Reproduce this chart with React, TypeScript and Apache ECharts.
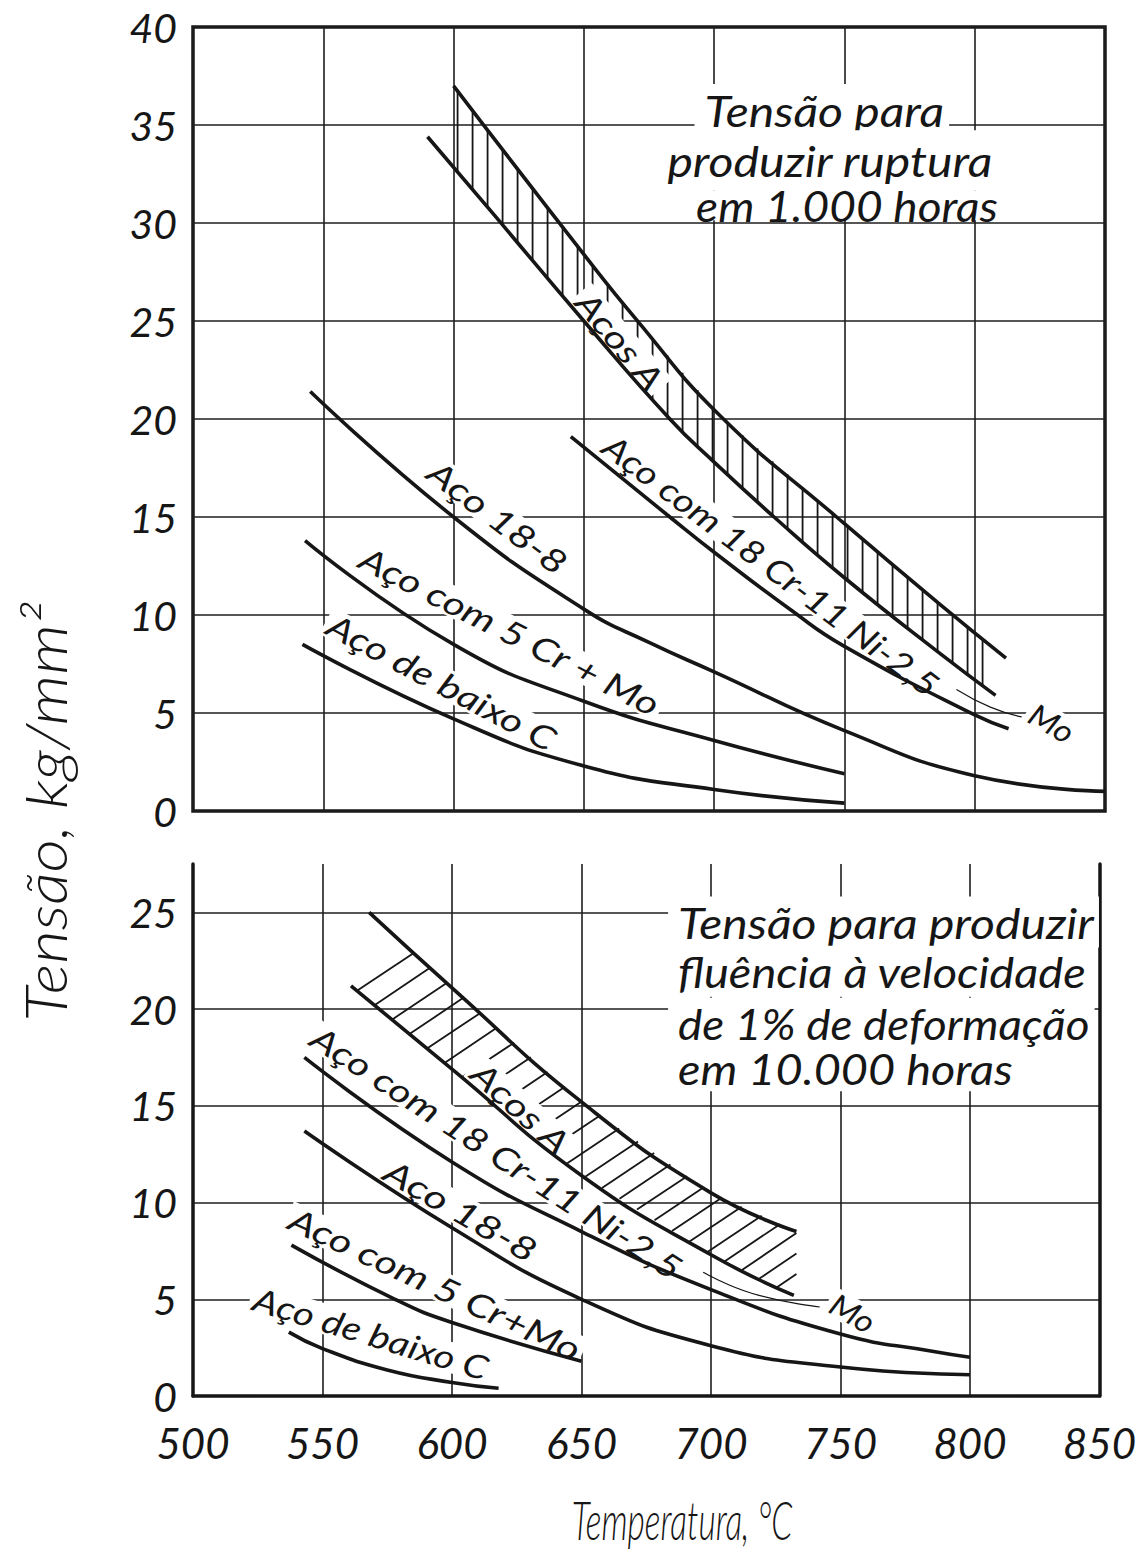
import React, { useEffect, useRef } from "react";
import * as echarts from "echarts";

// ---------- axes ----------
const xTickValues = [500, 550, 600, 650, 700, 750, 800, 850];
const yTicksRupture = [0, 5, 10, 15, 20, 25, 30, 35, 40];
const yTicksCreep = [0, 5, 10, 15, 20, 25];
const CREEP_Y_MAX = 27.5;

// ---------- top panel: tensão para produzir ruptura em 1.000 horas ----------
const rupAcosAUpper = [[600, 37.0], [650, 28.4], [670, 25.1], [702, 20.2], [747, 15.0], [787, 10.5], [812, 7.8]];
const rupAcosALower = [[590, 34.4], [615, 30.5], [650, 25.0], [683, 20.0], [700, 17.8], [723, 15.0], [750, 11.9], [787, 8.0], [808, 5.9]];
const rupCr18Ni11Mo = [[645, 19.1], [683, 15.0], [700, 13.2], [730, 10.2], [750, 8.4], [800, 4.9], [813, 4.2]];
const rupAco188 = [[545, 21.4], [600, 15.0], [650, 10.3], [675, 8.6], [700, 7.1], [750, 4.1], [800, 1.8], [850, 1.0]];
const rupCr5Mo = [[543, 13.8], [600, 8.5], [650, 5.6], [700, 3.6], [750, 1.9]];
const rupBaixoC = [[542, 8.5], [600, 4.7], [650, 2.3], [700, 1.1], [750, 0.4]];
const rupMoLeader = [[793, 6.2], [806, 5.3], [818, 4.8]];

// ---------- bottom panel: fluência 1% em 10.000 horas ----------
const crpAcosAUpper = [[568, 25.0], [600, 21.1], [650, 15.2], [700, 10.5], [733, 8.5]];
const crpAcosALower = [[561, 21.2], [600, 16.9], [650, 11.4], [700, 7.3], [732, 5.2]];
const crpCr18Ni11Mo = [[543, 17.5], [600, 12.1], [650, 8.5], [700, 5.5], [750, 3.2], [786, 2.3], [800, 2.0]];
const crpAco188 = [[543, 13.7], [600, 8.7], [650, 5.0], [700, 2.6], [750, 1.5], [800, 1.1]];
const crpCr5Mo = [[538, 7.8], [578, 5.0], [600, 3.8], [650, 1.8]];
const crpBaixoC = [[537, 3.3], [550, 2.45], [575, 1.35], [600, 0.7], [618, 0.4]];
const crpMoLeader = [[697, 6.4], [716, 5.3], [742, 4.6]];

// ---------- annotations (anchor in data coords, separate from values) ----------
type Lbl = { text: string; at: number[]; rot: number; size: number; sx?: number; align?: string; box?: number };

const rupLabels: Lbl[] = [
  { text: "Aços A", at: [664, 24.0], rot: -50, size: 33, sx: 1.25 },
  { text: "Aço com 18 Cr-11 Ni-2,5", at: [722, 12.55], rot: -37, size: 33, sx: 1.18 },
  { text: "Mo", at: [829.6, 4.5], rot: -30, size: 31, sx: 1.1 },
  { text: "Aço 18-8", at: [617, 15.0], rot: -37, size: 33, sx: 1.28 },
  { text: "Aço com 5 Cr + Mo", at: [621.6, 9.2], rot: -27, size: 33, sx: 1.26 },
  { text: "Aço de baixo C", at: [595.5, 6.6], rot: -28, size: 33, sx: 1.25 },
  { text: "Tensão para", at: [742.3, 35.76], rot: 0, size: 43, sx: 1.12, box: 52 },
  { text: "produzir ruptura", at: [744.4, 33.2], rot: 0, size: 43, sx: 1.12, box: 60 },
  { text: "em 1.000 horas", at: [751, 30.9], rot: 0, size: 43, sx: 1.07, box: 30 },
];

const crpLabels: Lbl[] = [
  { text: "Aços A", at: [626.6, 14.9], rot: -42, size: 33, sx: 1.28 },
  { text: "Aço com 18 Cr-11 Ni-2,5", at: [617.4, 12.6], rot: -33, size: 33, sx: 1.25 },
  { text: "Mo", at: [754.8, 4.3], rot: -30, size: 31, sx: 1.1 },
  { text: "Aço 18-8", at: [603.5, 9.6], rot: -30, size: 33, sx: 1.32 },
  { text: "Aço com 5 Cr+Mo", at: [593.5, 5.8], rot: -25, size: 33, sx: 1.28 },
  { text: "Aço de baixo C", at: [568.7, 3.25], rot: -17, size: 33, sx: 1.2 },
  { text: "Tensão para produzir", at: [687.3, 24.5], rot: 0, size: 43, sx: 1.12, align: "left", box: 51 },
  { text: "fluência à velocidade", at: [687.3, 21.95], rot: 0, size: 43, sx: 1.095, align: "left", box: 51 },
  { text: "de 1% de deformação", at: [687.3, 19.27], rot: 0, size: 43, sx: 1.065, align: "left", box: 51 },
  { text: "em 10.000 horas", at: [687.3, 16.94], rot: 0, size: 43, sx: 1.09, align: "left", box: 46 },
];

const FONT = "Lato, 'DejaVu Sans', sans-serif";
const WEIGHT = 400;
const INK = "#161616";

let measureCtx: CanvasRenderingContext2D | null = null;
function measure(text: string, size: number): number {
  if (!measureCtx) measureCtx = document.createElement("canvas").getContext("2d");
  if (!measureCtx) return text.length * size * 0.5;
  measureCtx.font = `italic ${WEIGHT} ${size}px ${FONT}`;
  return measureCtx.measureText(text).width;
}

function interpPx(pts: number[][], x: number): number | null {
  if (x < pts[0][0] || x > pts[pts.length - 1][0]) return null;
  for (let i = 0; i < pts.length - 1; i++) {
    const a = pts[i];
    const b = pts[i + 1];
    if (x >= a[0] && x <= b[0]) {
      const t = (x - a[0]) / (b[0] - a[0] || 1);
      return a[1] + t * (b[1] - a[1]);
    }
  }
  return null;
}

function makeLabel(l: Lbl, api: any) {
  const p = api.coord(l.at);
  const align = l.align || "center";
  const sx = l.sx || 1;
  const w = measure(l.text, l.size) * sx;
  const h = l.box || l.size * 0.92;
  const padL = l.box ? 10 : 4;
  const padR = l.box ? 5 : 4;
  const rx = align === "left" ? -padL : -w / 2 - padL;
  return {
    type: "group",
    x: p[0],
    y: p[1],
    rotation: (l.rot * Math.PI) / 180,
    children: [
      {
        type: "rect",
        shape: { x: rx, y: -h / 2, width: w + padL + padR, height: h },
        style: { fill: "#ffffff" },
      },
      {
        type: "text",
        x: 0,
        y: 0,
        scaleX: sx,
        style: {
          text: l.text,
          fill: INK,
          fontFamily: FONT,
          fontStyle: "italic",
          fontWeight: WEIGHT,
          fontSize: l.size,
          align,
          textAlign: align,
          verticalAlign: "middle",
          textVerticalAlign: "middle",
        },
      },
    ],
  };
}

function verticalHatch(upper: number[][], lower: number[][], step: number) {
  return (params: any, api: any) => {
    const up = upper.map((p) => api.coord(p));
    const lo = lower.map((p) => api.coord(p));
    const xs = Math.max(up[0][0], lo[0][0]);
    const xe = Math.min(up[up.length - 1][0], lo[lo.length - 1][0]);
    const children: any[] = [];
    for (let x = xs + 4; x <= xe - 1; x += step) {
      const y1 = interpPx(up, x);
      const y2 = interpPx(lo, x);
      if (y1 == null || y2 == null) continue;
      children.push({
        type: "line",
        shape: { x1: x, y1, x2: x, y2 },
        style: { stroke: INK, lineWidth: 1.8 },
      });
    }
    return { type: "group", children };
  };
}

function slantHatch(upper: number[][], lower: number[][], step: number, angleDeg: number) {
  return (params: any, api: any) => {
    const up = upper.map((p) => api.coord(p));
    const lo = lower.map((p) => api.coord(p));
    const a = (angleDeg * Math.PI) / 180;
    const cs = Math.cos(a);
    const sn = Math.sin(a);
    const upEnd = up[up.length - 1][0];
    const children: any[] = [];
    for (let x = lo[0][0] + 6; x <= lo[lo.length - 1][0]; x += step) {
      const y0 = interpPx(lo, x);
      if (y0 == null) continue;
      let hit: number[] | null = null;
      for (let s = 2; s < 300; s += 0.5) {
        const px = x + s * cs;
        const py = y0 - s * sn;
        if (px > upEnd) {
          if (s > 8) hit = [upEnd, py];
          break;
        }
        if (px < up[0][0]) continue;
        const uy = interpPx(up, px);
        if (uy != null && py <= uy) {
          hit = [px, uy];
          break;
        }
      }
      if (hit) {
        children.push({
          type: "line",
          shape: { x1: x, y1: y0, x2: hit[0], y2: hit[1] },
          style: { stroke: INK, lineWidth: 1.8 },
        });
      }
    }
    return { type: "group", children };
  };
}

function curve(data: number[][], gi: number, width = 3.6) {
  return {
    type: "line",
    xAxisIndex: gi,
    yAxisIndex: gi,
    data,
    smooth: 0.5,
    showSymbol: false,
    symbol: "none",
    silent: true,
    z: 4,
    lineStyle: { color: INK, width },
  };
}

const tickFont = {
  fontFamily: FONT,
  fontStyle: "italic" as const,
  fontWeight: WEIGHT,
  fontSize: 41,
  color: INK,
};

export default function App() {
  const ref = useRef<HTMLDivElement>(null);

  useEffect(() => {
    if (!ref.current) return;
    const chart = echarts.init(ref.current, null, { renderer: "svg" });
    const grid = { color: "#1e1e1e", width: 1.6 };
    const option: any = {
      animation: false,
      backgroundColor: "#ffffff",
      grid: [
        { left: 193, right: 34, top: 27, height: 784, show: true, borderColor: INK, borderWidth: 3.5, backgroundColor: "transparent" },
        { left: 193, right: 34, top: 864, height: 532 },
      ],
      xAxis: [
        {
          gridIndex: 0, type: "value", min: xTickValues[0], max: xTickValues[xTickValues.length - 1], interval: 50,
          axisLine: { show: false }, axisTick: { show: false }, axisLabel: { show: false },
          splitLine: { show: true, lineStyle: grid },
        },
        {
          gridIndex: 1, type: "value", min: xTickValues[0], max: xTickValues[xTickValues.length - 1], interval: 50,
          axisLine: { show: true, onZero: false, lineStyle: { color: INK, width: 3.5 } },
          axisTick: { show: false },
          axisLabel: { ...tickFont, fontSize: 42, margin: 28, lineHeight: 38, formatter: (v: number) => (xTickValues.includes(v) ? String(v) : "") },
          splitLine: { show: true, lineStyle: grid },
        },
      ],
      yAxis: [
        {
          gridIndex: 0, type: "value", min: yTicksRupture[0], max: yTicksRupture[yTicksRupture.length - 1], interval: 5,
          axisLine: { show: false }, axisTick: { show: false },
          axisLabel: { ...tickFont, margin: 16, lineHeight: 34, formatter: (v: number) => (yTicksRupture.includes(v) ? String(v) : "") },
          splitLine: { show: true, lineStyle: grid },
        },
        {
          gridIndex: 1, type: "value", min: 0, max: CREEP_Y_MAX, interval: 5,
          axisLine: { show: true, onZero: false, lineStyle: { color: INK, width: 3.5 } },
          axisTick: { show: false },
          axisLabel: { ...tickFont, margin: 16, lineHeight: 34, showMaxLabel: false, formatter: (v: number) => (yTicksCreep.includes(v) ? String(v) : "") },
          splitLine: { show: true, showMaxLine: false, lineStyle: grid },
        },
        {
          gridIndex: 1, type: "value", position: "right", min: 0, max: CREEP_Y_MAX, interval: 5,
          axisLine: { show: true, onZero: false, lineStyle: { color: INK, width: 3.5 } },
          axisTick: { show: false }, axisLabel: { show: false }, splitLine: { show: false },
        },
      ],
      graphic: [
        {
          type: "text", x: 682, y: 1520, scaleX: 0.62, silent: true,
          style: {
            text: "Temperatura, °C", fill: INK, fontFamily: FONT, fontStyle: "italic", fontWeight: 300, fontSize: 54,
            align: "center", textAlign: "center", verticalAlign: "middle", textVerticalAlign: "middle",
          },
        },
        {
          type: "text", x: 44, y: 812, rotation: Math.PI / 2, scaleX: 1.12, silent: true,
          style: {
            text: "Tensão, kg/mm²", fill: INK, fontFamily: FONT, fontStyle: "italic", fontWeight: 300, fontSize: 58,
            align: "center", textAlign: "center", verticalAlign: "middle", textVerticalAlign: "middle",
          },
        },
      ],
      series: [
        // hatching
        {
          type: "custom", xAxisIndex: 0, yAxisIndex: 0, z: 2, silent: true, clip: true,
          data: [rupAcosAUpper[0]],
          renderItem: verticalHatch(rupAcosAUpper, rupAcosALower, 15),
        },
        {
          type: "custom", xAxisIndex: 1, yAxisIndex: 1, z: 2, silent: true, clip: true,
          data: [crpAcosAUpper[0]],
          renderItem: slantHatch(crpAcosAUpper, crpAcosALower, 17.5, 34),
        },
        // labels
        {
          type: "custom", xAxisIndex: 0, yAxisIndex: 0, z: 3, silent: true,
          data: rupLabels.map((l) => l.at),
          renderItem: (params: any, api: any) => makeLabel(rupLabels[params.dataIndex], api),
        },
        {
          type: "custom", xAxisIndex: 1, yAxisIndex: 1, z: 3, silent: true,
          data: crpLabels.map((l) => l.at),
          renderItem: (params: any, api: any) => makeLabel(crpLabels[params.dataIndex], api),
        },
        // curves, top
        curve(rupAcosAUpper, 0),
        curve(rupAcosALower, 0),
        curve(rupCr18Ni11Mo, 0),
        curve(rupAco188, 0),
        curve(rupCr5Mo, 0),
        curve(rupBaixoC, 0),
        curve(rupMoLeader, 0, 1.2),
        // curves, bottom
        curve(crpAcosAUpper, 1),
        curve(crpAcosALower, 1),
        curve(crpCr18Ni11Mo, 1),
        curve(crpAco188, 1),
        curve(crpCr5Mo, 1),
        curve(crpBaixoC, 1),
        curve(crpMoLeader, 1, 1.2),
      ],
    };
    chart.setOption(option);
    return () => chart.dispose();
  }, []);

  return (
    <div
      ref={ref}
      style={{ position: "absolute", left: 0, top: 0, width: 1139, height: 1553, background: "#ffffff" }}
    />
  );
}
